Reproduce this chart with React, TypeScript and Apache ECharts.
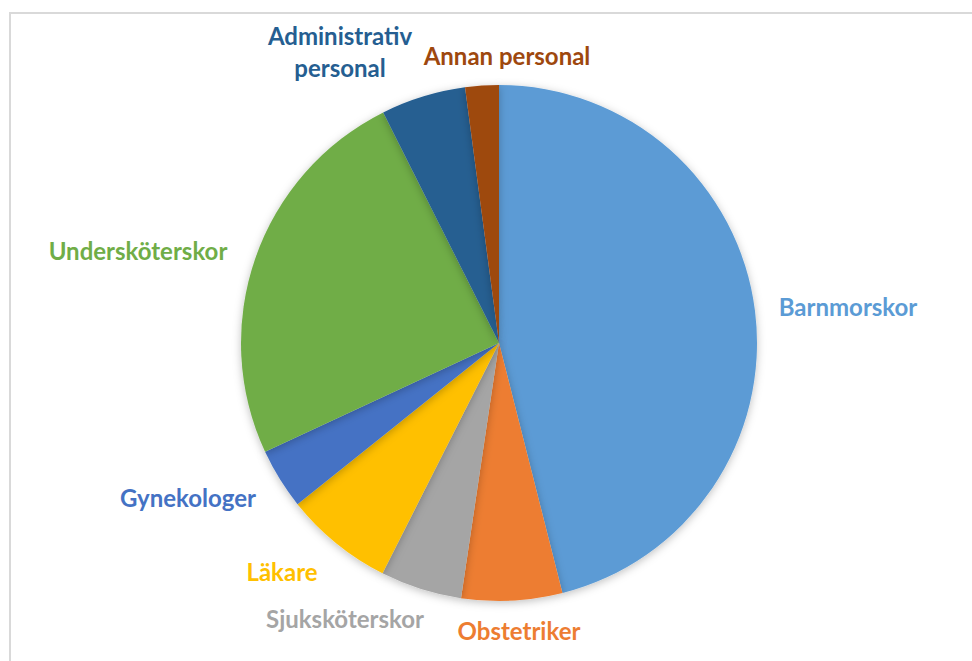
import React, { useEffect, useRef } from "react";
import * as echarts from "echarts";

const categories = [
  "Barnmorskor",
  "Obstetriker",
  "Sjuksköterskor",
  "Läkare",
  "Gynekologer",
  "Undersköterskor",
  "Administrativ\npersonal",
  "Annan personal",
];
const values = [46.0, 6.3, 5.1, 6.8, 3.8, 24.5, 5.3, 2.1];
const colors = ["#5B9BD5", "#ED7D31", "#A5A5A5", "#FFC000", "#4472C4", "#70AD47", "#255E91", "#9E480E"];

// label anchor points (text centre), as Excel's "best fit" placed them
const labelCenters: [number, number][] = [
  [848, 306],
  [519, 630],
  [345, 618],
  [282, 571],
  [188, 497],
  [138, 250],
  [340, 51],
  [507, 55],
];

export default function App() {
  const ref = useRef<HTMLDivElement>(null);
  useEffect(() => {
    const chart = echarts.init(ref.current!, undefined, { renderer: "svg" });
    chart.setOption({
      animation: false,
      backgroundColor: "#ffffff",
      graphic: [
        {
          type: "rect",
          shape: { x: 10, y: 13, width: 1000, height: 700 },
          style: { fill: "none", stroke: "#d9d9d9", lineWidth: 2 },
          silent: true,
        },
      ],
      series: [
        {
          type: "pie",
          center: [499, 343],
          radius: 258,
          startAngle: 90,
          clockwise: true,
          avoidLabelOverlap: false,
          itemStyle: {
            shadowBlur: 8,
            shadowColor: "rgba(0,0,0,0.25)",
            shadowOffsetY: 2,
          },
          label: {
            show: true,
            position: "outside",
            fontFamily: "Lato",
            fontWeight: "bold",
            fontSize: 24,
            lineHeight: 32,
            align: "center",
          },
          labelLine: { show: false },
          labelLayout: (p: any) => ({
            x: labelCenters[p.dataIndex][0],
            y: labelCenters[p.dataIndex][1],
            align: "center",
            verticalAlign: "middle",
            hideOverlap: false,
            moveOverlap: false,
          }),
          data: categories.map((name, i) => ({
            name,
            value: values[i],
            itemStyle: { color: colors[i] },
            label: { color: colors[i] },
          })),
        },
      ],
    });
    return () => chart.dispose();
  }, []);
  return (
    <div
      ref={ref}
      style={{ position: "absolute", left: 0, top: 0, width: 972, height: 661 }}
    />
  );
}
